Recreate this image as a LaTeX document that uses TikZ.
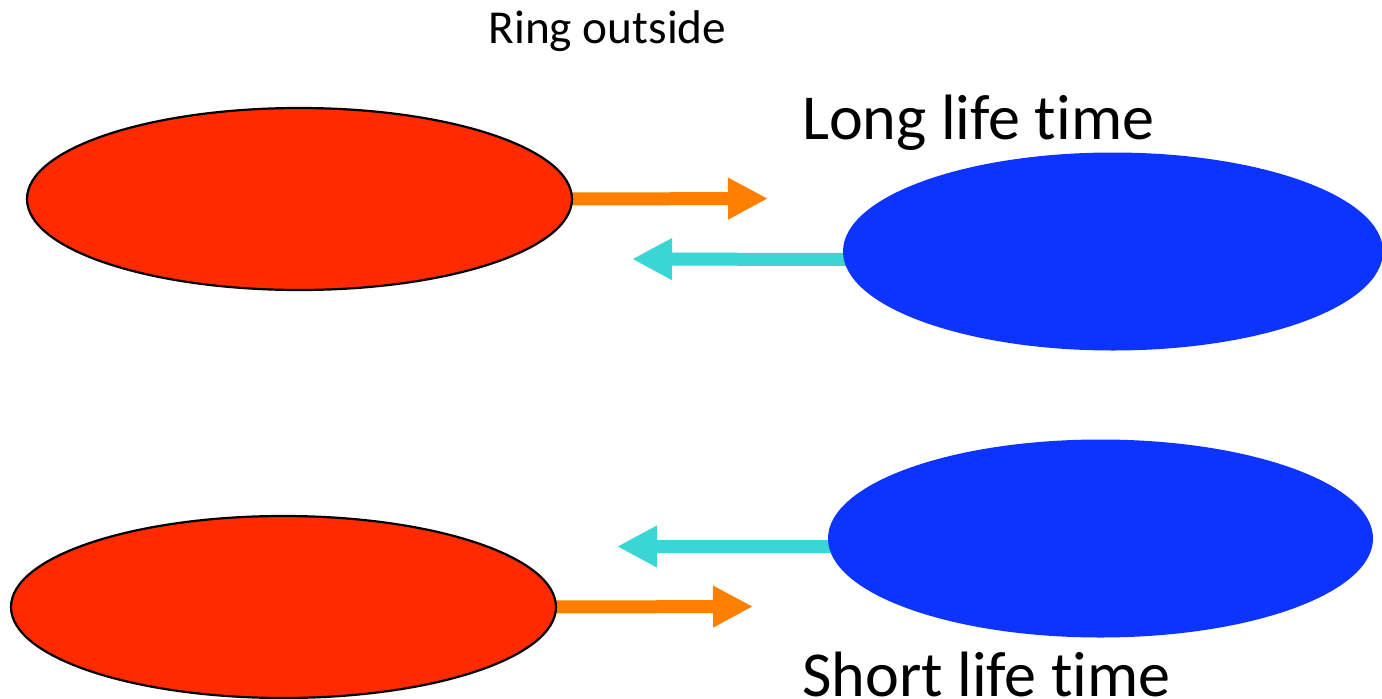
\documentclass[tikz,border=0pt]{standalone}
\usepackage{fontspec}
\setmainfont[RawFeature={-liga;-clig;-calt;-dlig;-rlig}]{Carlito}
\usetikzlibrary{shapes.geometric,arrows.meta}
\definecolor{ringred}{RGB}{255,42,0}
\definecolor{ringblue}{RGB}{13,51,255}
\definecolor{flowout}{RGB}{255,127,0}
\definecolor{flowin}{RGB}{58,213,213}
\tikzset{
  redring/.style={ellipse,draw=black,line width=2.2pt,fill=ringred,inner sep=0pt,
    minimum width=545pt,minimum height=182pt},
  bluering/.style={ellipse,fill=ringblue,inner sep=0pt,
    minimum width=545pt,minimum height=198pt},
  fatarrow/.style={line width=13pt,line cap=butt,-{Triangle[length=40pt,width=39pt]}},
  outarrow/.style={fatarrow,draw=flowout},
  inarrow/.style={fatarrow,draw=flowin},
  smalllabel/.style={anchor=base,inner sep=0pt,font=\fontsize{47.3}{56}\selectfont},
  biglabel/.style={anchor=base west,inner sep=0pt,font=\fontsize{64.1}{76}\selectfont},
}
\begin{document}
\begin{tikzpicture}[x=1pt,y=-1pt]
\useasboundingbox (0,0) rectangle (1382,699);

% coordinates where the arrow tips end
\coordinate (tipA) at (768,198.5);
\coordinate (tipB) at (632,259);
\coordinate (tipC) at (617,546.5);
\coordinate (tipD) at (753,606.5);

% invisible copies of the rings, so the arrows can start at their borders
\path (299.5,199) node[redring,draw=none,fill=none] (r1) {}
      (1113,251.5) node[bluering,fill=none,minimum width=540pt] (b1) {}
      (1100.5,538.5) node[bluering,fill=none] (b2) {}
      (283.5,607) node[redring,draw=none,fill=none] (r2) {};

% arrows first, so the rings sit on top of their tails
\draw[outarrow] ([xshift=-3pt]r1.east) -- (tipA);
\draw[inarrow] ([xshift=3pt,yshift=-8pt]b1.west) -- (tipB);
\draw[inarrow] ([xshift=3pt,yshift=-8pt]b2.west) -- (tipC);
\draw[outarrow] ([xshift=-3pt]r2.east) -- (tipD);

% the rings
\node[redring] at (r1) {};
\node[bluering,minimum width=540pt] at (b1) {};
\node[bluering] at (b2) {};
\node[redring] at (r2) {};

% labels
\node[smalllabel] (title) at (607.5,43) {Ring outside};
\node[biglabel] (long) at (802,139) {Long life time};
\node[biglabel] (short) at (802,696) {Short life time};
\end{tikzpicture}
\end{document}
